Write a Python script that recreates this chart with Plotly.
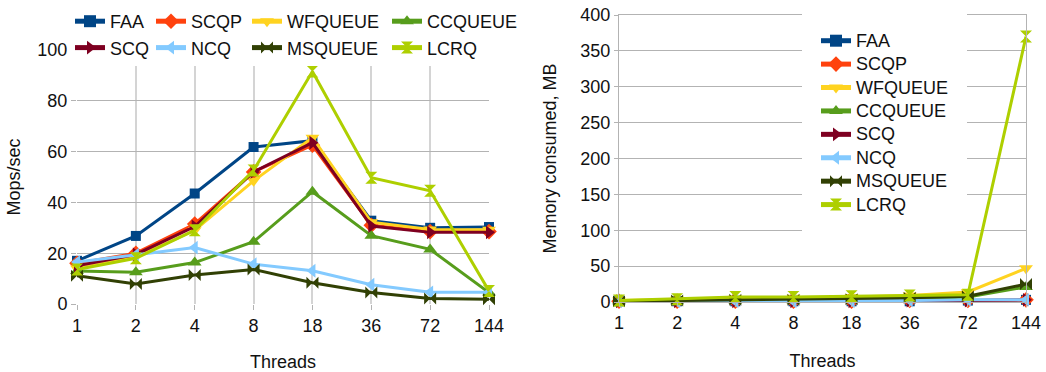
import plotly.graph_objects as go

threads = ["1", "2", "4", "8", "18", "36", "72", "144"]
names = ["FAA", "SCQP", "WFQUEUE", "CCQUEUE", "SCQ", "NCQ", "MSQUEUE", "LCRQ"]
colors = ["#004586", "#ff420e", "#ffd320", "#579d1c", "#7e0021", "#83caff", "#314004", "#aecf00"]
symbols = ["square", "diamond", "triangle-down", "triangle-up", "triangle-right",
           "triangle-left", "bowtie", "hourglass"]

# Throughput (Mops/sec)
faa_tp = [17, 26.8, 43.5, 61.8, 64.3, 32.8, 30, 30.3]
scqp_tp = [16, 20, 31.5, 52, 62.5, 31, 28.5, 28.5]
wfqueue_tp = [14, 18.5, 29, 48.5, 65.5, 32.2, 29.3, 29.2]
ccqueue_tp = [13, 12.5, 16.3, 24.5, 44.2, 26.9, 21.5, 4.5]
scq_tp = [15, 19.5, 30.5, 52, 63.5, 30.7, 28.2, 28.2]
ncq_tp = [16.5, 19.4, 22.2, 15.7, 13.1, 7.6, 4.6, 4.6]
msqueue_tp = [11.1, 7.9, 11.4, 13.6, 8.4, 4.5, 2.2, 1.9]
lcrq_tp = [13.6, 18, 29, 52.6, 91.5, 49.7, 44.6, 5.1]

# Memory consumed (MB)
faa_mem = [1, 1, 1, 1, 1, 1, 2, 3]
scqp_mem = [1, 1, 1, 1, 1, 2, 2, 3]
wfqueue_mem = [2, 3, 5, 6, 7, 9, 14, 47]
ccqueue_mem = [1, 1, 2, 2, 3, 4, 7, 21]
scq_mem = [1, 1, 1, 1, 1, 2, 2, 3]
ncq_mem = [1, 1, 1, 1, 1, 2, 3, 3]
msqueue_mem = [1, 2, 3, 3, 4, 6, 8, 25]
lcrq_mem = [2, 4, 7, 7, 8, 9, 10, 370]

tp = [faa_tp, scqp_tp, wfqueue_tp, ccqueue_tp, scq_tp, ncq_tp, msqueue_tp, lcrq_tp]
mem = [faa_mem, scqp_mem, wfqueue_mem, ccqueue_mem, scq_mem, ncq_mem, msqueue_mem, lcrq_mem]

W, H = 1046, 372
FONT = "Liberation Sans, Arial, sans-serif"
fig = go.Figure()

left_legends = ["legend", "legend2", "legend3", "legend4", "legend", "legend2", "legend3", "legend4"]
for i, n in enumerate(names):
    msize = 10 if symbols[i] == "square" else 12
    fig.add_trace(go.Scatter(
        x=threads, y=tp[i], name=n, mode="lines+markers",
        line=dict(color=colors[i], width=3),
        marker=dict(symbol=symbols[i], size=msize, color=colors[i], line=dict(width=0)),
        xaxis="x", yaxis="y", legend=left_legends[i], cliponaxis=False))
for i, n in enumerate(names):
    msize = 10 if symbols[i] == "square" else 12
    fig.add_trace(go.Scatter(
        x=threads, y=mem[i], name="<span style='font-size:18px'>%s</span>" % n,
        mode="lines+markers",
        line=dict(color=colors[i], width=3),
        marker=dict(symbol=symbols[i], size=msize, color=colors[i], line=dict(width=0)),
        xaxis="x2", yaxis="y2", legend="legend5", cliponaxis=False))

def px(x):
    return x / W

def py(y):
    return (H - y) / H

grid_h = "#b3b3b3"
grid_v = "#d4d4d4"
tickfont = dict(family=FONT, size=18, color="#111111")
titlefont = dict(family=FONT, size=18, color="#111111")

def legend_common(size, bw=0):
    return dict(
        bgcolor="white", bordercolor="white", borderwidth=bw,
        font=dict(family=FONT, size=size, color="#111111"),
        orientation="v", xanchor="left", yanchor="top", itemsizing="constant",
        tracegroupgap=0, itemwidth=30,
    )

layout = dict(
    width=W, height=H, margin=dict(l=0, r=0, t=0, b=0, autoexpand=False),
    paper_bgcolor="white", plot_bgcolor="white",
    font=dict(family=FONT, size=18, color="#111111"),
    xaxis=dict(domain=[px(77), px(489)], type="category", range=[0, 7],
               showgrid=True, gridcolor=grid_v, gridwidth=2,
               ticks="outside", ticklen=5, tickcolor=grid_h, tickfont=tickfont,
               title=dict(text="Threads", font=titlefont, standoff=22),
               showline=False, zeroline=False, anchor="y", automargin=False),
    yaxis=dict(domain=[py(304), py(50)], range=[0, 100], dtick=20,
               showgrid=True, gridcolor=grid_h, gridwidth=1,
               ticks="outside", ticklen=5, tickcolor=grid_h, tickfont=tickfont,
               title=dict(text="Mops/sec", font=titlefont, standoff=12),
               zeroline=False, showline=False, anchor="x", automargin=False),
    xaxis2=dict(domain=[px(619), px(1026)], type="category", range=[0, 7],
                showgrid=False, ticks="outside", ticklen=4, tickcolor=grid_h,
                tickfont=tickfont,
                title=dict(text="Threads", font=titlefont, standoff=22),
                showline=True, linecolor=grid_h, linewidth=1, mirror=True,
                zeroline=False, anchor="y2", automargin=False),
    yaxis2=dict(domain=[py(302), py(15)], range=[0, 400], dtick=50,
                showgrid=True, gridcolor=grid_h, gridwidth=1,
                ticks="outside", ticklen=4, tickcolor=grid_h, tickfont=tickfont,
                title=dict(text="Memory consumed, MB", font=titlefont, standoff=19),
                showline=True, linecolor=grid_h, linewidth=1, mirror=True,
                zeroline=False, anchor="x2", automargin=False),
    legend=dict(x=px(70), y=py(3), **legend_common(18)),
    legend2=dict(x=px(151), y=py(3), **legend_common(18)),
    legend3=dict(x=px(247), y=py(3), **legend_common(18)),
    legend4=dict(x=px(387), y=py(3), **legend_common(18)),
    legend5=dict(x=px(802), y=py(10), **legend_common(15.7, bw=14)),
)
fig.update_layout(**layout)

fig.write_html("out.html", config={"displayModeBar": False},
               post_script="document.body.style.margin='0';")
